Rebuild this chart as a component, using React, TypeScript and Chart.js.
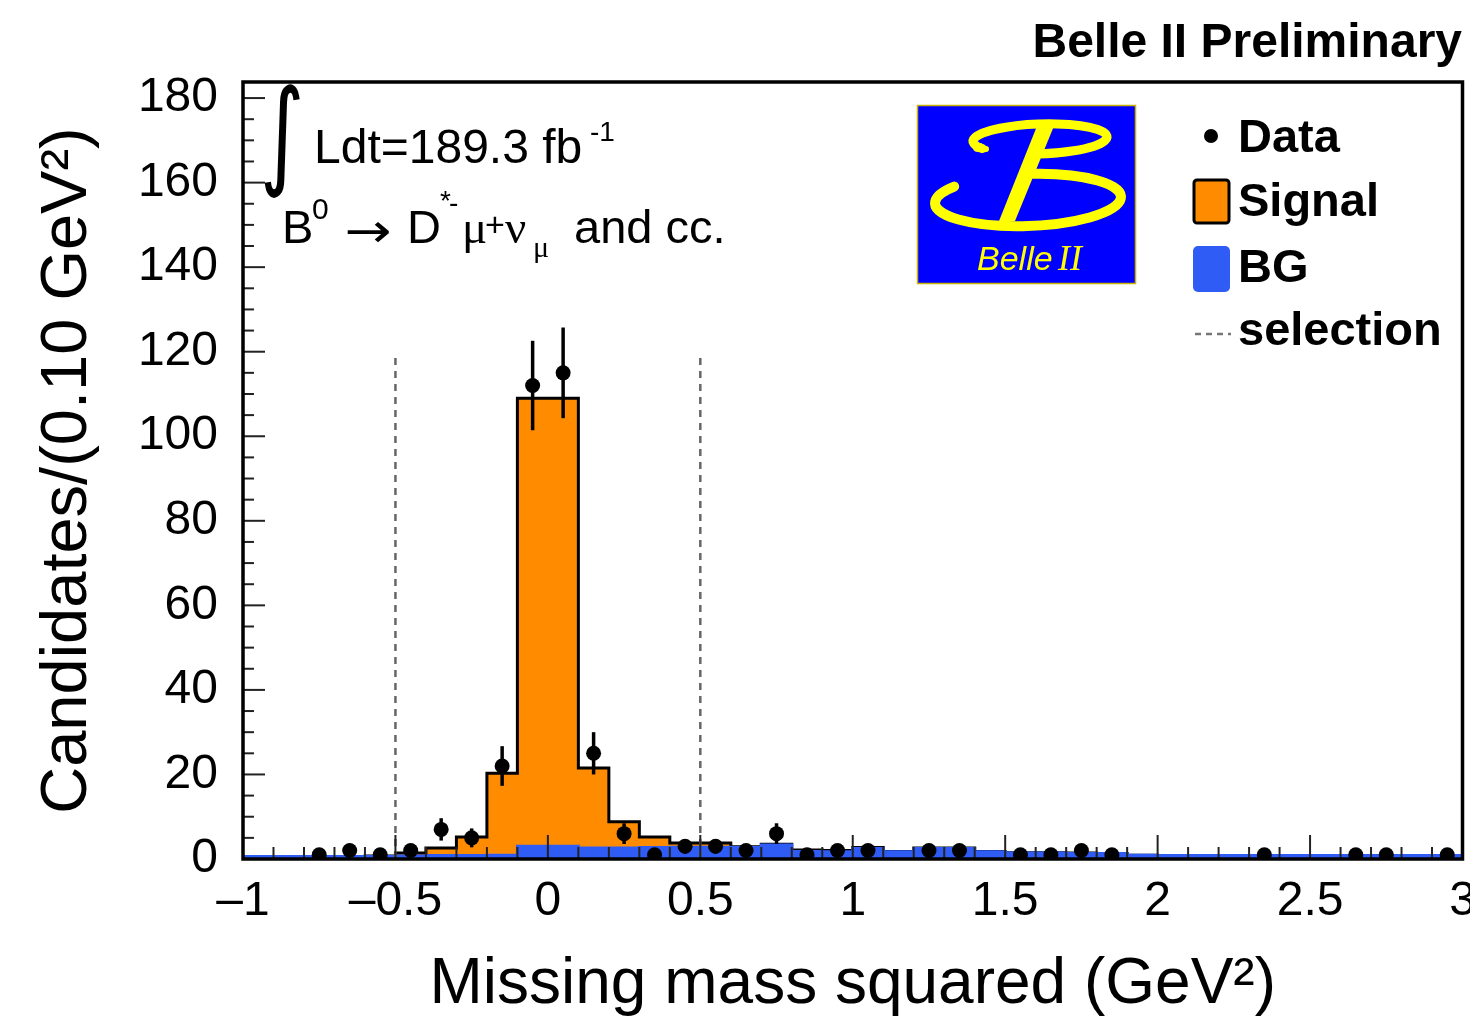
import React, { useEffect, useRef } from "react";
import { Chart, registerables } from "chart.js";

Chart.register(...registerables);

const FONT = "'Liberation Sans', Arial, Helvetica, sans-serif";
const SERIF = "'Liberation Serif', 'DejaVu Serif', serif";
const ORANGE = "#ff8c00";
const BLUE = "#2f5cf5";

// histogram bin edges (GeV^2), 0.10 GeV^2 bins
const binEdges = [
  -1.0, -0.9, -0.8, -0.7, -0.6, -0.5, -0.4, -0.3, -0.2, -0.1, 0.0, 0.1, 0.2, 0.3,
  0.4, 0.5, 0.6, 0.7, 0.8, 0.9, 1.0, 1.1, 1.2, 1.3, 1.4, 1.5, 1.6, 1.7, 1.8, 1.9,
  2.0, 2.1, 2.2, 2.3, 2.4, 2.5, 2.6, 2.7, 2.8, 2.9, 3.0,
];

// background (stacked at bottom), per bin
const bgCounts = [
  0.6, 0.6, 0.6, 0.6, 0.6, 0.7, 0.8, 0.8, 0.9, 3.0, 3.0, 2.6, 2.6, 2.7, 2.8, 2.8,
  2.7, 3.3, 1.8, 1.7, 2.5, 1.7, 2.5, 2.5, 1.7, 1.4, 1.4, 1.3, 1.3, 0.9, 0.8, 0.8,
  0.8, 0.8, 0.8, 0.8, 0.8, 0.8, 0.8, 0.8,
];

// signal (stacked on top of background), per bin
const signalCounts = [
  0, 0, 0, 0, 0.1, 0.7, 1.8, 4.4, 19.4, 106, 106, 18.9, 6.2, 2.5, 1.0, 1.0, 0.2,
  0.2, 0.3, 0.3, 0.2, 0.1, 0.1, 0.1, 0.1, 0.1, 0.1, 0.1, 0, 0, 0, 0, 0, 0, 0, 0, 0,
  0, 0, 0,
];

// data points (bin centres and counts)
const dataX = [
  -0.75, -0.65, -0.55, -0.45, -0.35, -0.25, -0.15, -0.05, 0.05, 0.15, 0.25, 0.35,
  0.45, 0.55, 0.65, 0.75, 0.85, 0.95, 1.05, 1.25, 1.35, 1.55, 1.65, 1.75, 1.85,
  2.35, 2.65, 2.75, 2.95,
];
const dataN = [
  1, 2, 1, 2, 7, 5, 22, 112, 115, 25, 6, 1, 3, 3, 2, 6, 1, 2, 2, 2, 2, 1, 1, 2, 1,
  1, 1, 1, 1,
];

const selectionCuts = [-0.5, 0.5];
const selectionTop = 118.5;

const xTicks = [-1, -0.5, 0, 0.5, 1, 1.5, 2, 2.5, 3];
const xTickLabels = ["\u20131", "\u20130.5", "0", "0.5", "1", "1.5", "2", "2.5", "3"];
const yTicks = [0, 20, 40, 60, 80, 100, 120, 140, 160, 180];
const yMin = 0;
const yMax = 183.8;
const xMin = -1;
const xMax = 3;

const decorPlugin = {
  id: "decor",
  afterDatasetsDraw(chart: any) {
    const { ctx, scales } = chart;
    const xs = scales.x;
    const ys = scales.y;
    ctx.save();
    ctx.strokeStyle = "#000";
    ctx.lineWidth = 3.5;
    for (let i = 0; i < dataX.length; i++) {
      const n = dataN[i];
      const e = Math.sqrt(n);
      const px = xs.getPixelForValue(dataX[i]);
      ctx.beginPath();
      ctx.moveTo(px, ys.getPixelForValue(n - e));
      ctx.lineTo(px, ys.getPixelForValue(n + e));
      ctx.stroke();
    }
    ctx.restore();
  },
  afterDraw(chart: any) {
    const { ctx, chartArea, scales } = chart;
    const xs = scales.x;
    const ys = scales.y;
    const { left, right, top, bottom } = chartArea;
    ctx.save();

    // ticks (inside the frame)
    ctx.strokeStyle = "#222";
    ctx.lineWidth = 2;
    for (let k = 0; k * 5 <= yMax; k++) {
      const v = k * 5;
      const py = ys.getPixelForValue(v);
      const len = k % 4 === 0 ? 22 : 11;
      ctx.beginPath();
      ctx.moveTo(left, py);
      ctx.lineTo(left + len, py);
      ctx.stroke();
    }
    for (let k = 0; k <= 40; k++) {
      const v = xMin + k * 0.1;
      const px = xs.getPixelForValue(v);
      const len = k % 5 === 0 ? 24 : 12;
      ctx.beginPath();
      ctx.moveTo(px, bottom);
      ctx.lineTo(px, bottom - len);
      ctx.stroke();
    }

    // frame
    ctx.strokeStyle = "#000";
    ctx.lineWidth = 3.5;
    ctx.strokeRect(left, top, right - left, bottom - top);

    // header
    ctx.fillStyle = "#000";
    ctx.textBaseline = "alphabetic";
    ctx.textAlign = "right";
    ctx.font = `bold 48px ${FONT}`;
    ctx.fillText("Belle II Preliminary", 1462, 57);

    // integral sign fitted to its box
    ctx.textAlign = "left";
    ctx.font = `100px 'DejaVu Sans', sans-serif`;
    const m = ctx.measureText("\u222B");
    const gh = m.actualBoundingBoxAscent + m.actualBoundingBoxDescent;
    const gw = m.actualBoundingBoxLeft + m.actualBoundingBoxRight;
    ctx.save();
    ctx.translate(264, 84);
    ctx.scale(36 / gw, 115 / gh);
    ctx.fillText("\u222B", m.actualBoundingBoxLeft, m.actualBoundingBoxAscent);
    ctx.restore();

    const put = (t: string, x: number, y: number, f: string) => {
      ctx.font = f;
      ctx.fillText(t, x, y);
    };
    put("Ldt=189.3 fb", 314, 163, `48px ${FONT}`);
    put("-1", 590, 141, `28px ${FONT}`);

    put("B", 282, 243, `47px ${FONT}`);
    put("0", 312, 219, `30px ${FONT}`);
    // long arrow, stretched to its box
    ctx.font = `47px 'DejaVu Sans', sans-serif`;
    const am = ctx.measureText("\u2192");
    const aw = am.actualBoundingBoxLeft + am.actualBoundingBoxRight;
    const acy = (am.actualBoundingBoxAscent - am.actualBoundingBoxDescent) / 2;
    ctx.save();
    ctx.translate(347, 232);
    ctx.scale(43 / aw, 1);
    ctx.fillText("\u2192", am.actualBoundingBoxLeft, acy);
    ctx.restore();
    put("D", 407, 243, `47px ${FONT}`);
    put("*", 440, 210, `28px ${FONT}`);
    put("-", 449, 212, `28px ${FONT}`);
    put("\u03BC", 462, 243, `47px ${SERIF}`);
    put("+", 485, 236, `34px ${FONT}`);
    put("\u03BD", 505, 243, `47px ${SERIF}`);
    put("\u03BC", 533, 257, `30px ${SERIF}`);
    put("and cc.", 574, 243, `47px ${FONT}`);

    // Belle II logo
    ctx.fillStyle = "#0000ff";
    ctx.fillRect(917, 105, 219, 179);
    ctx.strokeStyle = "#c8b400";
    ctx.lineWidth = 1.5;
    ctx.strokeRect(917.5, 105.5, 218, 178);
    ctx.strokeStyle = "#ffff00";
    ctx.fillStyle = "#ffff00";
    ctx.lineCap = "round";
    const deg = (d: number) => (d * Math.PI) / 180;
    // upper loop with inward hook
    ctx.lineWidth = 9;
    ctx.beginPath();
    ctx.ellipse(1040, 139, 67, 15, deg(-2), deg(150), deg(452));
    ctx.stroke();
    ctx.lineWidth = 6;
    ctx.beginPath();
    ctx.moveTo(980, 146);
    ctx.quadraticCurveTo(970, 150, 986, 149);
    ctx.stroke();
    // lower loop
    ctx.lineWidth = 10;
    ctx.beginPath();
    ctx.ellipse(1028, 200, 93, 26, deg(-2), deg(-86), deg(218));
    ctx.stroke();
    // stem
    ctx.beginPath();
    ctx.moveTo(1037, 126);
    ctx.lineTo(1054, 126);
    ctx.lineTo(1015, 221);
    ctx.lineTo(999, 221);
    ctx.closePath();
    ctx.fill();
    ctx.textAlign = "left";
    ctx.font = `italic 34px ${FONT}`;
    ctx.fillText("Belle", 977, 270);
    ctx.font = `italic 36px ${SERIF}`;
    ctx.fillText("II", 1058, 270);

    // legend
    ctx.textAlign = "left";
    ctx.fillStyle = "#000";
    ctx.beginPath();
    ctx.arc(1211, 136, 7, 0, Math.PI * 2);
    ctx.fill();
    ctx.font = `bold 47px ${FONT}`;
    ctx.fillText("Data", 1238, 152);
    ctx.fillText("Signal", 1238, 216);
    ctx.fillText("BG", 1238, 282);
    ctx.fillText("selection", 1238, 345);

    ctx.fillStyle = ORANGE;
    ctx.strokeStyle = "#000";
    ctx.lineWidth = 3;
    ctx.beginPath();
    ctx.roundRect(1194, 180, 35, 43, 3);
    ctx.fill();
    ctx.stroke();
    ctx.fillStyle = BLUE;
    ctx.beginPath();
    ctx.roundRect(1193, 246, 37, 46, 5);
    ctx.fill();
    ctx.strokeStyle = "#777";
    ctx.lineWidth = 2.5;
    ctx.setLineDash([6, 5]);
    ctx.lineCap = "butt";
    ctx.beginPath();
    ctx.moveTo(1195, 334);
    ctx.lineTo(1231, 334);
    ctx.stroke();
    ctx.setLineDash([]);

    ctx.restore();
  },
};

export default function App() {
  const ref = useRef<HTMLCanvasElement>(null);
  useEffect(() => {
    const canvas = ref.current;
    if (!canvas) return;
    const totalCounts = bgCounts.map((b, i) => b + signalCounts[i]);
    const steps = (vals: number[]) =>
      binEdges.map((x, i) => ({ x, y: vals[Math.min(i, vals.length - 1)] }));
    const cutLine = (x: number) => ({
      label: "selection",
      data: [
        { x, y: 0 },
        { x, y: selectionTop },
      ],
      borderColor: "#666",
      borderWidth: 2.5,
      borderDash: [7, 6],
      pointRadius: 0,
      fill: false,
    });
    const chart = new Chart(canvas, {
      type: "line",
      data: {
        datasets: [
          {
            label: "Data",
            data: dataX.map((x, i) => ({ x, y: dataN[i] })),
            showLine: false,
            pointRadius: 7.5,
            pointBackgroundColor: "#000",
            pointBorderWidth: 0,
            borderColor: "#000",
          },
          cutLine(selectionCuts[0]),
          cutLine(selectionCuts[1]),
          {
            label: "BG",
            data: steps(bgCounts),
            stepped: true,
            fill: "origin",
            backgroundColor: BLUE,
            borderColor: BLUE,
            borderWidth: 3,
            pointRadius: 0,
          },
          {
            label: "Signal",
            data: steps(totalCounts),
            stepped: true,
            fill: "origin",
            backgroundColor: ORANGE,
            borderColor: "#000",
            borderWidth: 3,
            pointRadius: 0,
          },
        ] as any,
      },
      options: {
        responsive: false,
        animation: false,
        events: [],
        layout: { padding: { top: 82, right: 5, left: 0, bottom: 0 } },
        plugins: {
          legend: { display: false },
          tooltip: { enabled: false },
          title: { display: false },
        },
        scales: {
          x: {
            type: "linear",
            min: xMin,
            max: xMax,
            afterBuildTicks: (s: any) => {
              s.ticks = xTicks.map((v) => ({ value: v }));
            },
            afterFit: (s: any) => {
              s.height = 158;
              s.paddingLeft = 0;
              s.paddingRight = 0;
            },
            ticks: {
              callback: (_v: any, i: number) => xTickLabels[i],
              font: { family: FONT, size: 48 },
              color: "#000",
              padding: 14,
              maxRotation: 0,
              autoSkip: false,
            },
            grid: { display: false, drawTicks: false },
            border: { display: false },
            title: {
              display: true,
              text: "Missing mass squared (GeV\u00B2)",
              font: { family: FONT, size: 64, lineHeight: 1 },
              color: "#000",
              padding: { top: 0, bottom: 0 },
            },
          },
          y: {
            type: "linear",
            min: yMin,
            max: yMax,
            afterBuildTicks: (s: any) => {
              s.ticks = yTicks.map((v) => ({ value: v }));
            },
            afterFit: (s: any) => {
              s.width = 243;
              s.paddingTop = 0;
              s.paddingBottom = 0;
            },
            ticks: {
              font: { family: FONT, size: 48 },
              color: "#000",
              padding: 25,
            },
            grid: { display: false, drawTicks: false },
            border: { display: false },
            title: {
              display: true,
              text: "Candidates/(0.10 GeV\u00B2)",
              font: { family: FONT, size: 65, lineHeight: 1 },
              color: "#000",
              padding: { top: 36, bottom: 0 },
            },
          },
        },
      } as any,
      plugins: [decorPlugin],
    });
    return () => chart.destroy();
  }, []);
  return (
    <div
      style={{
        position: "fixed",
        left: 0,
        top: 0,
        width: 1470,
        height: 1017,
        background: "#fff",
      }}
    >
      <canvas ref={ref} width={1470} height={1017} style={{ display: "block" }} />
    </div>
  );
}
